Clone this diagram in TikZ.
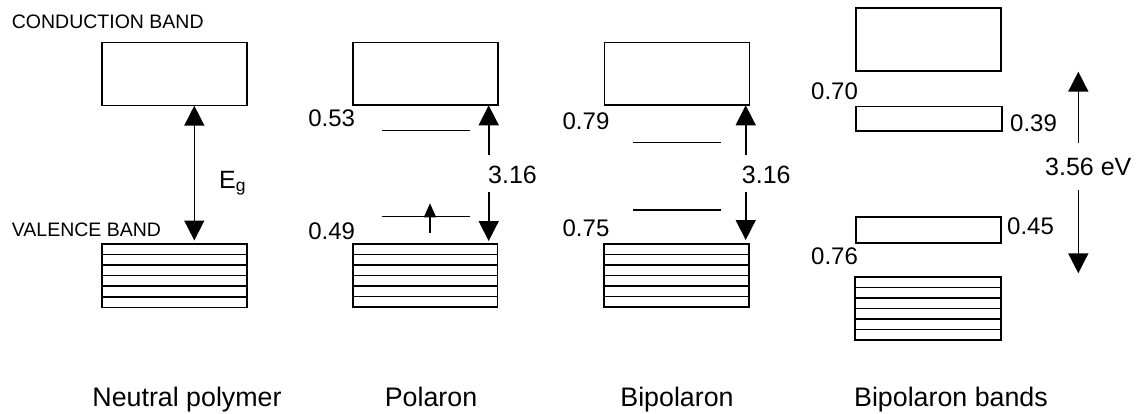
\documentclass[tikz,border=0pt]{standalone}
\usepackage{fontspec}
\setmainfont{Liberation Sans}
\usetikzlibrary{arrows.meta,calc}
\begin{document}
\begin{tikzpicture}[x=1pt,y=-1pt,
  band/.style={draw, line width=1.6pt, rectangle, inner sep=0pt, outer sep=0pt},
  stack/.style={band, path picture={\foreach \i in {1,...,5}{\draw[line width=1.5pt] ($(path picture bounding box.north west)!\i/6!(path picture bounding box.south west)$) -- ($(path picture bounding box.north east)!\i/6!(path picture bounding box.south east)$);}}},
  level/.style={line width=1.5pt},
  gap/.style={line width=1.6pt, -{Triangle[width=20pt,length=20pt]}},
  spin/.style={line width=1.5pt, -{Triangle[width=12pt,length=14pt]}},
  bandlab/.style={font=\fontsize{19.5}{23}\selectfont, inner sep=0pt, anchor=west},
  numlab/.style={font=\fontsize{24}{28}\selectfont, inner sep=0pt},
  gaplab/.style={font=\fontsize{25}{30}\selectfont, inner sep=0pt},
  caption/.style={font=\fontsize{26.8}{32}\selectfont, inner sep=0pt, anchor=base}]
\useasboundingbox (0,0) rectangle (1139,414);

% texts
\node[bandlab] (tcb) at (11.7,21.7) {CONDUCTION BAND};
\node[bandlab] (tvb) at (11.7,230) {VALENCE BAND};

% Neutral polymer
\node[band, minimum width=145.3pt, minimum height=63pt] (cb1) at (174.35,74.2) {};
\node[stack, minimum width=145pt, minimum height=63.3pt] (vb1) at (174.5,275.65) {};
\coordinate (ax1) at (194.3,0);
\draw[gap, {Triangle[width=20pt,length=20pt]}-{Triangle[width=20pt,length=20pt]}, shorten >=3.5pt] (cb1.south -| ax1) -- (vb1.north -| ax1);
\node[gaplab, anchor=base west] (eg) at (219,188) {E\textsubscript{g}};

% Polaron
\node[band, minimum width=145.3pt, minimum height=62.6pt] (cb2) at (425.35,74) {};
\node[stack, minimum width=144.6pt, minimum height=63pt] (vb2) at (425,275.5) {};
\coordinate (l2a) at (381.7,130.7); \coordinate (l2b) at (470,130.7);
\coordinate (l2c) at (381.7,216.7); \coordinate (l2d) at (470,216.7);
\draw[level] (l2a) -- (l2b);
\draw[level] (l2c) -- (l2d);
\coordinate (s2a) at (430,233.3); \coordinate (s2b) at (430,203.3);
\draw[spin] (s2a) -- (s2b);
\coordinate (g2a) at (488.7,155); \coordinate (g2b) at (488.7,191.7);
\draw[gap] (g2a) -- (cb2.south -| g2a);
\draw[gap, shorten >=3pt] (g2b) -- (vb2.north -| g2b);
\node[gaplab] (e2) at (512.5,175) {3.16};
\node[numlab] (n53) at (331.7,118.3) {0.53};
\node[numlab] (n49) at (331.7,231.7) {0.49};

% Bipolaron
\node[band, minimum width=145pt, minimum height=62.6pt] (cb3) at (676.8,74) {};
\node[stack, minimum width=145pt, minimum height=63pt] (vb3) at (676.5,275.5) {};
\coordinate (l3a) at (633.3,142.7); \coordinate (l3b) at (720.7,142.7);
\coordinate (l3c) at (633.3,210); \coordinate (l3d) at (720.7,210);
\draw[level] (l3a) -- (l3b);
\draw[level] (l3c) -- (l3d);
\coordinate (g3a) at (745.7,155); \coordinate (g3b) at (745.7,191.7);
\draw[gap] (g3a) -- (cb3.south -| g3a);
\draw[gap, shorten >=4pt] (g3b) -- (vb3.north -| g3b);
\node[gaplab] (e3) at (766.3,175) {3.16};
\node[numlab] (n79) at (586,121.7) {0.79};
\node[numlab] (n75) at (586,228.3) {0.75};

% Bipolaron bands
\node[band, minimum width=145pt, minimum height=62.7pt] (cb4) at (928.2,39.65) {};
\node[band, minimum width=146.3pt, minimum height=24.3pt] (ub4) at (928.85,118.85) {};
\node[band, minimum width=145pt, minimum height=26pt] (lb4) at (928.2,229.7) {};
\node[stack, minimum width=145.7pt, minimum height=63.3pt] (vb4) at (927.85,308.35) {};
\coordinate (g4a) at (1078.3,143.3); \coordinate (g4b) at (1078.3,71.7);
\coordinate (g4c) at (1078.3,190); \coordinate (g4d) at (1078.3,273.3);
\draw[gap] (g4a) -- (g4b);
\draw[gap] (g4c) -- (g4d);
\node[gaplab] (e4) at (1088.3,166.7) {3.56 eV};
\node[numlab] (n70) at (834.5,91.7) {0.70};
\node[numlab] (n39) at (1033.5,123.3) {0.39};
\node[numlab] (n45) at (1030.5,226.7) {0.45};
\node[numlab] (n76) at (834.5,256.7) {0.76};

% captions
\node[caption] (c1) at (187,406.7) {Neutral polymer};
\node[caption] (c2) at (431,406.7) {Polaron};
\node[caption] (c3) at (677,406.7) {Bipolaron};
\node[caption] (c4) at (951,406.7) {Bipolaron bands};
\end{tikzpicture}
\end{document}
